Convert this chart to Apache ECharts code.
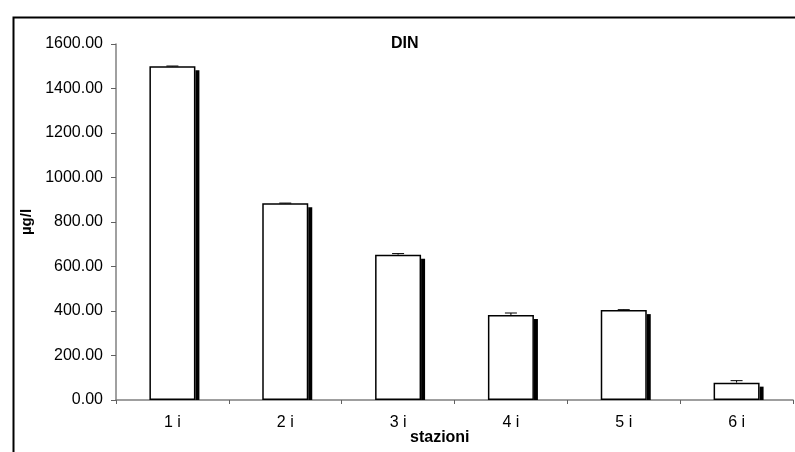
<!DOCTYPE html>
<html>
<head>
<meta charset="utf-8">
<script src="https://cdn.jsdelivr.net/npm/echarts@6/dist/echarts.min.js"></script>
<style>html,body{margin:0;padding:0;background:#fff;}#c{width:795px;height:452px;}</style>
</head>
<body>
<div id="c"></div>
<script>
var categories = ['1 i', '2 i', '3 i', '4 i', '5 i', '6 i'];
var values = [1500, 884, 653, 382, 404, 78];
var errors = [1, 1, 5, 9, 2, 9];
var yTicks = [0, 200, 400, 600, 800, 1000, 1200, 1400, 1600];

var font = 'Liberation Sans, Arial, sans-serif';
var BAR_W = 46, SH = 4;
var chart = echarts.init(document.getElementById('c'));
chart.setOption({
  animation: false,
  backgroundColor: '#fff',
  grid: {left: 116, right: 2, top: 44, bottom: 52, containLabel: false},
  xAxis: {
    type: 'category',
    data: categories,
    axisLine: {lineStyle: {color: '#808080', width: 1.5}},
    axisTick: {show: true, length: 4, lineStyle: {color: '#606060'}},
    axisLabel: {color: '#000', fontFamily: font, fontSize: 16, margin: 15}
  },
  yAxis: {
    type: 'value',
    min: yTicks[0], max: yTicks[yTicks.length - 1], interval: 200,
    name: 'µg/l',
    nameLocation: 'middle',
    nameGap: 81,
    nameTextStyle: {color: '#000', fontFamily: font, fontSize: 15, fontWeight: 'bold'},
    axisLine: {show: true, lineStyle: {color: '#808080', width: 1.5}},
    axisTick: {show: true, length: 5, lineStyle: {color: '#606060'}},
    splitLine: {show: false},
    axisLabel: {color: '#000', fontFamily: font, fontSize: 16, margin: 13,
      formatter: function (v) { return v.toFixed(2); }}
  },
  series: [{
    type: 'custom',
    data: values.map(function (v, i) { return [i, v]; }),
    renderItem: function (params, api) {
      var top = api.coord([api.value(0), api.value(1)]);
      var base = api.coord([api.value(0), 0]);
      var right = top[0] + BAR_W / 2;
      return {type: 'rect',
        shape: {x: right, y: top[1] + SH, width: SH, height: base[1] - top[1] - SH},
        style: {fill: '#000'}};
    },
    z: 1
  }, {
    type: 'bar',
    data: values,
    barWidth: BAR_W,
    itemStyle: {color: '#fff', borderColor: '#000', borderWidth: 1.5},
    z: 2
  }, {
    type: 'custom',
    data: values.map(function (v, i) { return [i, v, v + errors[i]]; }),
    renderItem: function (params, api) {
      var lo = api.coord([api.value(0), api.value(1)]);
      var hi = api.coord([api.value(0), api.value(2)]);
      var s = {stroke: '#000', lineWidth: 1};
      return {type: 'group', children: [
        {type: 'line', shape: {x1: lo[0], y1: lo[1], x2: hi[0], y2: hi[1]}, style: s},
        {type: 'line', shape: {x1: hi[0] - 6, y1: hi[1], x2: hi[0] + 6, y2: hi[1]}, style: s}
      ]};
    },
    z: 5
  }],
  graphic: [
    {type: 'rect', left: 11, top: 15, shape: {x: 0, y: 0, width: 820, height: 470},
      style: {fill: 'none', stroke: '#000', lineWidth: 2}, silent: true},
    {type: 'text', left: 391, top: 36, style: {text: 'DIN', fill: '#000', font: 'bold 16px ' + font}},
    {type: 'text', left: 410, top: 430, style: {text: 'stazioni', fill: '#000', font: 'bold 16px ' + font}}
  ]
});
</script>
</body>
</html>
